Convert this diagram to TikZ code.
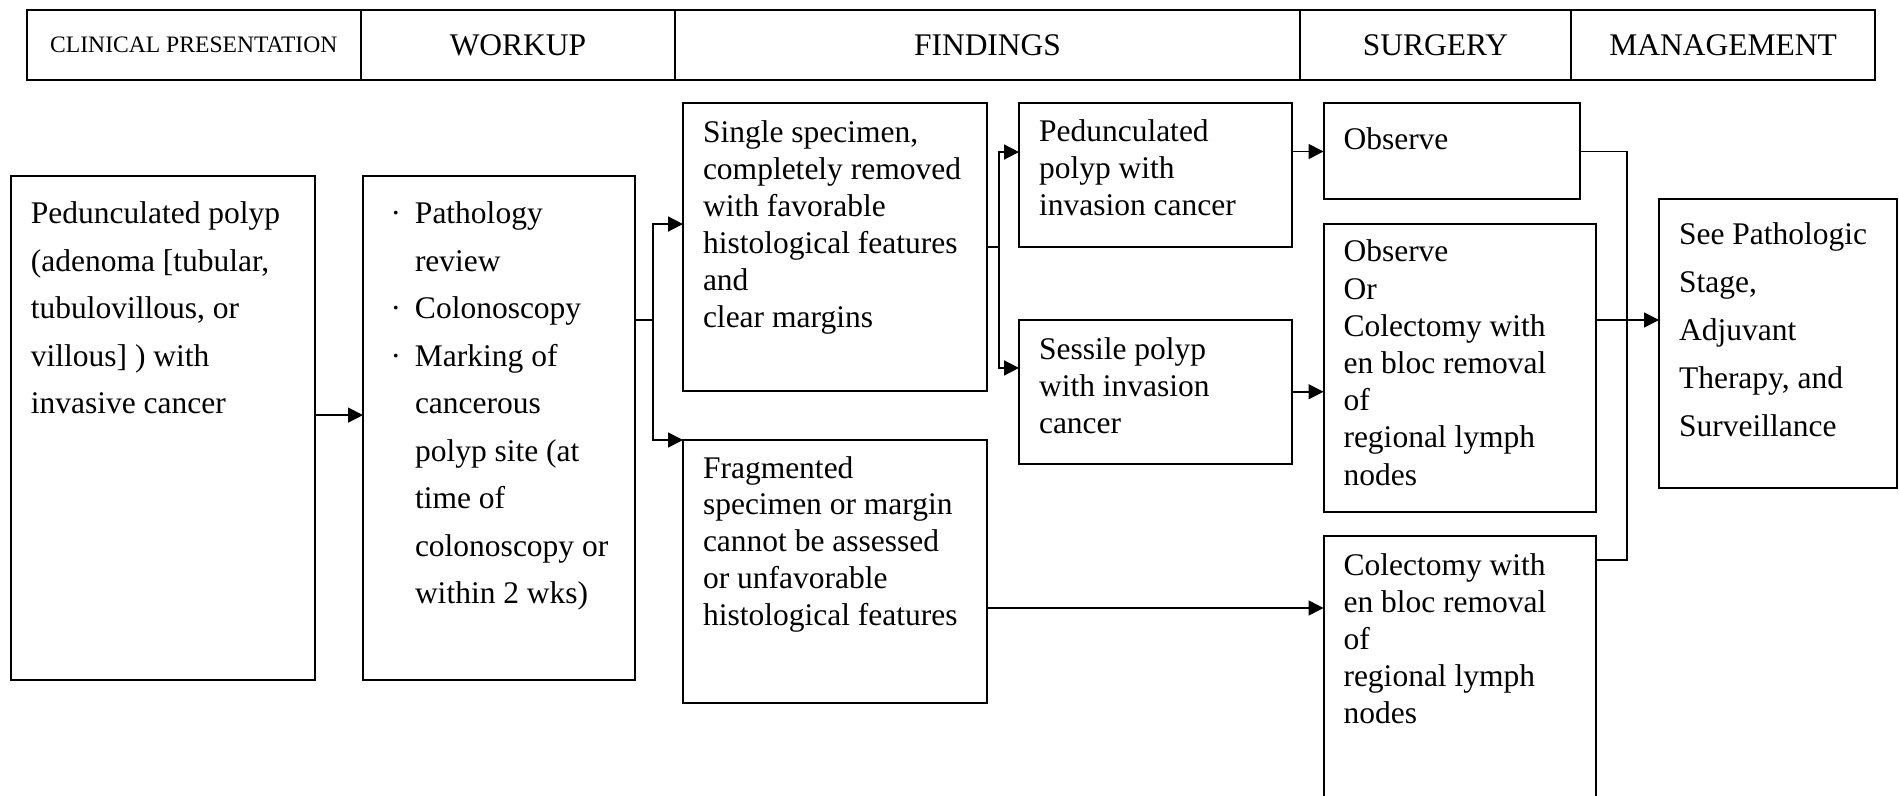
\documentclass[tikz,border=0pt]{standalone}
\usepackage{fontspec}
\setmainfont{Liberation Serif}
\usepackage{tikz}
\usetikzlibrary{arrows.meta}

\tikzset{
  cell/.style={draw, line width=1pt, inner sep=0pt, outer sep=0pt, anchor=north west},
  head/.style={cell, minimum height=35.15pt, font=\fontsize{15.75pt}{18pt}\selectfont},
  link/.style={line width=0.8pt},
  arr/.style={link, -{Triangle[length=7.5pt,width=7.5pt]}}
}
% width, height, line skip, first baseline, text
\newcommand{\boxtext}[5]{\parbox[t][#2][t]{#1}{\raggedright\leftskip=10pt
  \fontsize{15.75pt}{#3}\selectfont\rule{0pt}{#4}#5}}
\newcommand{\bul}{\leavevmode\llap{·\hspace{7pt}}}

\begin{document}
\begin{tikzpicture}[x=0.5pt,y=-0.5pt]
  \useasboundingbox (0,0) rectangle (1899,796);
  \clip (0,0) rectangle (1899,796);
  % header row
  \foreach \nm/\txt/\xa/\xb in {clin/{\fontsize{11.8pt}{14pt}\selectfont CLINICAL PRESENTATION}/26.6/361,
    work/WORKUP/361/675, find/FINDINGS/675/1300, surg/SURGERY/1300/1571, mgmt/MANAGEMENT/1571/1875}
  {\node[head, minimum width={(\xb-\xa)/2}] (\nm) at (\xa,9.7) {\txt};}

  \node[cell] (present) at (10.9,175.6) {\boxtext{152pt}{252pt}{23.75pt}{24.2pt}{Pedunculated polyp\\
    (adenoma [tubular,\\ tubulovillous, or\\ villous] ) with\\ invasive cancer}};
  \node[cell] (workup) at (363,175.6) {\boxtext{136pt}{252pt}{23.75pt}{24.2pt}{\leftskip=26pt
    \bul Pathology\\ review\\ \bul Colonoscopy\\ \bul Marking of\\ cancerous\\ polyp site (at\\
    time of\\ colonoscopy or\\ within 2 wks)}};
  \node[cell] (single) at (683,103.5) {\boxtext{152pt}{143.75pt}{18.45pt}{19.75pt}{Single specimen,\\
    completely removed\\ with favorable\\ histological features\\ and\\ clear margins}};
  \node[cell] (frag) at (683,440) {\boxtext{152pt}{131.5pt}{18.4pt}{19pt}{Fragmented\\
    specimen or margin\\ cannot be assessed\\ or unfavorable\\ histological features}};
  \node[cell] (pedun) at (1019,103.5) {\boxtext{136.5pt}{71.75pt}{18.5pt}{19.25pt}{Pedunculated\\
    polyp with\\ invasion cancer}};
  \node[cell] (sessile) at (1019,320) {\boxtext{136.5pt}{71.75pt}{18.5pt}{19.5pt}{Sessile polyp\\
    with invasion\\ cancer}};
  \node[cell] (observe) at (1323.5,103.5) {\boxtext{128.25pt}{48pt}{18.5pt}{23.25pt}{Observe}};
  \node[cell] (option) at (1323.5,223.8) {\boxtext{136pt}{143.9pt}{18.6pt}{19.1pt}{Observe\\ Or\\
    Colectomy with\\ en bloc removal\\ of\\ regional lymph\\ nodes}};
  \node[cell] (colect) at (1323.5,536) {\boxtext{136pt}{150pt}{18.5pt}{19.5pt}{Colectomy with\\
    en bloc removal\\ of\\ regional lymph\\ nodes}};
  \node[cell] (stage) at (1659,199.5) {\boxtext{119pt}{144pt}{24pt}{22.75pt}{See Pathologic\\
    Stage,\\ Adjuvant\\ Therapy, and\\ Surveillance}};

  \draw[arr] ([yshift=6.25pt]present.east) -- ([yshift=6.25pt]workup.west);
  % split after workup
  \coordinate (sp1) at (653,320);
  \draw[link] (workup.east |- sp1) -- (sp1);
  \draw[arr] (sp1) |- ([yshift=11.6pt]single.west);
  \draw[arr] (sp1) |- (frag.north west);
  % split after single specimen
  \coordinate (sp2) at (999,247.25);
  \draw[link] (single.east) -- (sp2);
  \draw[arr] (sp2) |- ([yshift=11.6pt]pedun.west);
  \draw[arr] (sp2) |- ([yshift=11.9pt]sessile.west);
  \draw[arr] (pedun.east |- observe.west) -- (observe.west);
  \draw[arr] (sessile.east) -- (sessile.east -| option.west);
  \draw[arr] ([yshift=-18.25pt]frag.east) -- ([yshift=-18.25pt]frag.east -| colect.west);
  % join into management
  \coordinate (mg) at (1627,320);
  \coordinate (mI) at (1627,560);
  \draw[link] (observe.east) -| (mI) -- (mI -| colect.east);
  \draw[arr] (option.east |- mg) -- (stage.west |- mg);
\end{tikzpicture}
\end{document}
